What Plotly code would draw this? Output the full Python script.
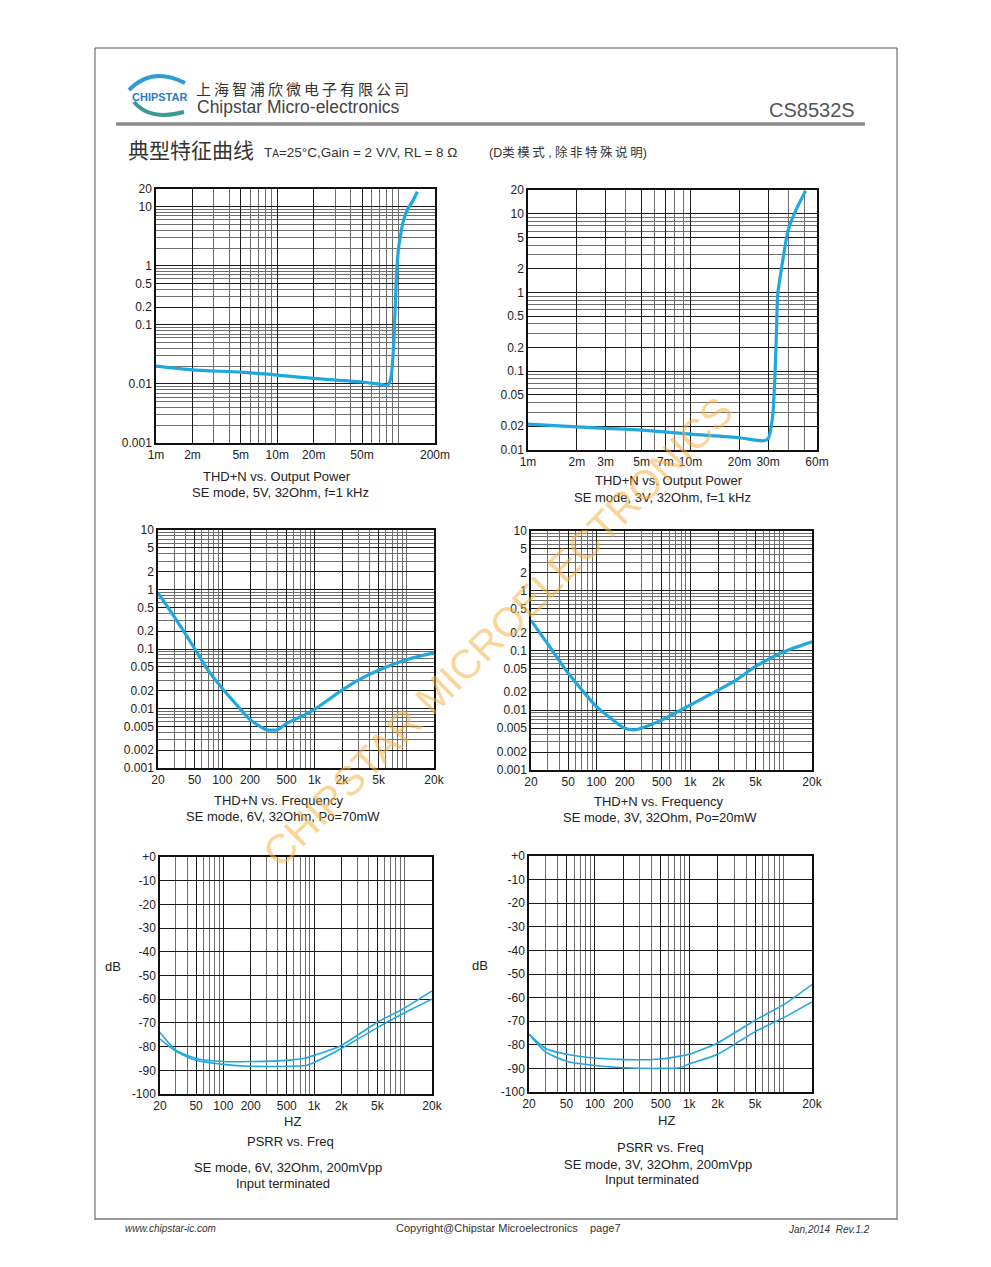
import math
import plotly.graph_objects as go

W, H = 991, 1267

# ---------------- data ----------------
# Chart 1: THD+N vs Output Power, SE mode 5V 32Ohm (P in W, THD+N in %)
p1_power = [0.001, 0.002, 0.005, 0.01, 0.02, 0.05, 0.07, 0.082, 0.087, 0.091,
            0.094, 0.096, 0.1, 0.104, 0.109, 0.119, 0.131, 0.143]
p1_thd = [0.020, 0.0173, 0.0158, 0.0141, 0.0124, 0.0108, 0.0099, 0.0096, 0.0134, 0.042,
          0.2, 0.62, 1.97, 3.3, 5.5, 9.1, 12.5, 18.0]

# Chart 2: THD+N vs Output Power, SE mode 3V 32Ohm
p2_power = [0.001, 0.002, 0.003, 0.005, 0.01, 0.02, 0.028, 0.030, 0.0319, 0.033,
            0.0338, 0.0344, 0.0364, 0.0398, 0.0444, 0.051]
p2_thd = [0.0213, 0.0197, 0.0188, 0.0179, 0.0159, 0.0143, 0.0131, 0.0139, 0.0252, 0.077,
          0.33, 0.96, 2.1, 6.1, 11.0, 19.5]

# Chart 3: THD+N vs Frequency, SE mode 6V 32Ohm Po=70mW
f3_freq = [20, 30, 50, 70, 100, 150, 200, 300, 400, 500, 700, 1000, 2000, 3000, 5000, 10000, 20000]
f3_thd = [0.88, 0.35, 0.102, 0.044, 0.0216, 0.0106, 0.0065, 0.0044, 0.0044, 0.0056, 0.0072,
          0.0096, 0.0203, 0.030, 0.044, 0.066, 0.086]

# Chart 4: THD+N vs Frequency, SE mode 3V 32Ohm Po=20mW
f4_freq = [20, 30, 50, 70, 100, 150, 200, 250, 300, 500, 1000, 2000, 3000, 5000, 10000, 20000]
f4_thd = [0.32, 0.13, 0.0415, 0.0218, 0.0115, 0.0069, 0.0050, 0.0047, 0.0050, 0.0069,
          0.0122, 0.0218, 0.031, 0.054, 0.095, 0.14]

# Chart 5: PSRR vs Freq, SE mode 6V
psrr5_freq = [20, 30, 50, 100, 200, 500, 800, 1000, 2000, 5000, 10000, 20000]
psrr5_a = [-74.0, -81.5, -85.0, -86.3, -86.3, -85.8, -84.8, -83.7, -79.5, -69.7, -63.7, -56.5]
psrr5_b = [-76.8, -82.0, -85.8, -87.5, -88.3, -88.3, -88.0, -86.7, -80.8, -72.0, -65.7, -60.0]

# Chart 6: PSRR vs Freq, SE mode 3V
psrr6_freq = [20, 30, 50, 100, 200, 500, 800, 1000, 2000, 5000, 10000, 20000]
psrr6_a = [-75.5, -81.6, -84.0, -85.6, -86.3, -86.0, -84.8, -84.0, -79.2, -69.6, -63.0, -54.5]
psrr6_b = [-75.5, -83.0, -87.0, -88.8, -89.7, -90.0, -89.7, -88.1, -84.0, -74.4, -68.5, -61.8]

# tick labels
pow1_ticks = [0.001, 0.002, 0.005, 0.01, 0.02, 0.05, 0.2]
pow1_text = ["1m", "2m", "5m", "10m", "20m", "50m", "200m"]
thd1_ticks = [20, 10, 1, 0.5, 0.2, 0.1, 0.01, 0.001]
thd1_text = ["20", "10", "1", "0.5", "0.2", "0.1", "0.01", "0.001"]

pow2_ticks = [0.001, 0.002, 0.003, 0.005, 0.007, 0.01, 0.02, 0.03, 0.06]
pow2_text = ["1m", "2m", "3m", "5m", "7m", "10m", "20m", "30m", "60m"]
thd2_ticks = [20, 10, 5, 2, 1, 0.5, 0.2, 0.1, 0.05, 0.02, 0.01]
thd2_text = ["20", "10", "5", "2", "1", "0.5", "0.2", "0.1", "0.05", "0.02", "0.01"]

freq_ticks = [20, 50, 100, 200, 500, 1000, 2000, 5000, 20000]
freq_text = ["20", "50", "100", "200", "500", "1k", "2k", "5k", "20k"]
thdf_ticks = [10, 5, 2, 1, 0.5, 0.2, 0.1, 0.05, 0.02, 0.01, 0.005, 0.002, 0.001]
thdf_text = ["10", "5", "2", "1", "0.5", "0.2", "0.1", "0.05", "0.02", "0.01", "0.005", "0.002", "0.001"]

db_ticks = [0, -10, -20, -30, -40, -50, -60, -70, -80, -90, -100]
db_text = ["+0", "-10", "-20", "-30", "-40", "-50", "-60", "-70", "-80", "-90", "-100"]

# ---------------- helpers ----------------
OFF = 8  # the page body has an 8px default margin: compensate so page pixels match


def X(p):
    return (p - OFF) / W


def Y(p):
    return 1 - (p - OFF) / H


def log_grid(lo, hi, exclude):
    vals = []
    e0 = int(math.floor(math.log10(lo))) - 1
    e1 = int(math.ceil(math.log10(hi))) + 1
    for e in range(e0, e1 + 1):
        for m in range(1, 10):
            v = float(f"{m * 10 ** e:.10g}")
            if lo * 0.999 <= v <= hi * 1.001 and all(abs(v - x) > 1e-12 * max(1, v) for x in exclude):
                vals.append(v)
    return vals


FONT = "Liberation Sans, Arial, Noto Sans CJK SC, sans-serif"
CJK = "Noto Sans CJK SC, sans-serif"
BLUE = "#1fa8e0"
TS = "\u2009"  # thin space used for the letter-spaced Chinese header text

fig = go.Figure()
layout = dict(
    width=W, height=H, margin=dict(l=0, r=0, t=0, b=0, autoexpand=False),
    paper_bgcolor="white", plot_bgcolor="white", showlegend=False,
    font=dict(family=FONT, color="#222"),
)


def axis_common():
    return dict(showline=True, linecolor="#111", linewidth=1.5, mirror=True,
                ticks="", showgrid=True, gridcolor="#1a1a1a", gridwidth=1.1,
                zeroline=False, fixedrange=True, automargin=False,
                tickfont=dict(size=12, color="#222", family=FONT))


charts = [
    dict(dom=(156, 435, 189, 443), xr=(0.001, 0.2), xt=pow1_ticks, xs=pow1_text,
         ylog=True, yr=(0.001, 20), yt=thd1_ticks, ys=thd1_text),
    dict(dom=(528, 817, 190, 450), xr=(0.001, 0.06), xt=pow2_ticks, xs=pow2_text,
         ylog=True, yr=(0.01, 20), yt=thd2_ticks, ys=thd2_text),
    dict(dom=(158, 434, 530, 768), xr=(20, 20000), xt=freq_ticks, xs=freq_text,
         ylog=True, yr=(0.001, 10), yt=thdf_ticks, ys=thdf_text),
    dict(dom=(531, 812, 531, 770), xr=(20, 20000), xt=freq_ticks, xs=freq_text,
         ylog=True, yr=(0.001, 10), yt=thdf_ticks, ys=thdf_text),
    dict(dom=(160, 432, 857, 1094), xr=(20, 20000), xt=freq_ticks, xs=freq_text,
         ylog=False, yr=(-100, 0), yt=db_ticks, ys=db_text),
    dict(dom=(529, 812, 856, 1092), xr=(20, 20000), xt=freq_ticks, xs=freq_text,
         ylog=False, yr=(-100, 0), yt=db_ticks, ys=db_text),
]

for i, c in enumerate(charts, start=1):
    x0, x1, y0, y1 = c["dom"]
    xa = axis_common()
    xa.update(type="log", range=[math.log10(c["xr"][0]), math.log10(c["xr"][1])],
              domain=[X(x0), X(x1)], anchor=f"y{i}", tickmode="array",
              tickvals=c["xt"], ticktext=c["xs"],
              minor=dict(tickmode="array", tickvals=log_grid(c["xr"][0], c["xr"][1], c["xt"]),
                         showgrid=True, gridcolor="#6e6e6e", gridwidth=1, ticks=""))
    ya = axis_common()
    if c["ylog"]:
        ya.update(type="log", range=[math.log10(c["yr"][0]), math.log10(c["yr"][1])],
                  minor=dict(tickmode="array", tickvals=log_grid(c["yr"][0], c["yr"][1], c["yt"]),
                             showgrid=True, gridcolor="#6e6e6e", gridwidth=1, ticks=""))
    else:
        ya.update(type="linear", range=list(c["yr"]))
    ya.update(domain=[Y(y1), Y(y0)], anchor=f"x{i}", tickmode="array",
              tickvals=c["yt"], ticktext=c["ys"])
    layout[f"xaxis{i}"] = xa
    layout[f"yaxis{i}"] = ya

series = [
    (1, p1_power, p1_thd, 3.2),
    (2, p2_power, p2_thd, 3.2),
    (3, f3_freq, f3_thd, 3.2),
    (4, f4_freq, f4_thd, 3.2),
    (5, psrr5_freq, psrr5_a, 1.6),
    (5, psrr5_freq, psrr5_b, 1.6),
    (6, psrr6_freq, psrr6_a, 1.6),
    (6, psrr6_freq, psrr6_b, 1.6),
]
for ax, xs, ys, w in series:
    fig.add_trace(go.Scatter(x=xs, y=ys, mode="lines", xaxis=f"x{ax}", yaxis=f"y{ax}",
                             line=dict(color=BLUE, width=w, shape="spline", smoothing=0.6),
                             hoverinfo="skip"))

# ---------------- annotations ----------------
ann = []


def txt(x, y, s, size=13, color="#222", xa="center", ya="middle", family=FONT, angle=0, **kw):
    ann.append(dict(x=X(x), y=Y(y), xref="paper", yref="paper", text=s, showarrow=False,
                    xanchor=xa, yanchor=ya, textangle=angle,
                    font=dict(size=size, color=color, family=family), **kw))


# header
txt(130, 97, "<b>CHIPSTAR</b>", size=11, color="#2a7cc4", xa="left",
    family="Liberation Sans Narrow, Liberation Sans, sans-serif")
txt(194, 88, TS.join("上海智浦欣微电子有限公司"), size=15, color="#333", xa="left", family=CJK)
txt(195, 107, "Chipstar Micro-electronics", size=17.5, color="#444", xa="left")
txt(857, 110, "CS8532S", size=20, color="#555", xa="right")
txt(126, 149, "典型特征曲线", size=21, color="#333", xa="left", family=CJK)
txt(262, 152, "T<span style='font-size:10px'>A</span>=25°C,Gain = 2 V/V, RL = 8 Ω",
    size=13.5, color="#333", xa="left")
txt(487, 152, "(D" + TS.join("类模式") + " , " + TS.join("除非特殊说明") + ")", size=12.5,
    color="#333", xa="left", family="Liberation Sans, Noto Sans CJK SC, sans-serif")

# chart captions
txt(277, 476, "THD+N vs. Output Power")
txt(280, 493, "SE mode, 5V, 32Ohm, f=1 kHz")
txt(669, 481, "THD+N vs. Output Power")
txt(662, 497, "SE mode, 3V, 32Ohm, f=1 kHz")
txt(278, 800, "THD+N vs. Frequency")
txt(283, 816, "SE mode, 6V, 32Ohm, Po=70mW")
txt(658, 801, "THD+N vs. Frequency")
txt(660, 817, "SE mode, 3V, 32Ohm, Po=20mW")
txt(292, 1121, "HZ")
txt(113, 967, "dB")
txt(290, 1141, "PSRR vs. Freq")
txt(288, 1167, "SE mode, 6V, 32Ohm, 200mVpp")
txt(283, 1183, "Input terminated")
txt(666, 1120, "HZ")
txt(480, 965, "dB")
txt(660, 1147, "PSRR vs. Freq")
txt(658, 1164, "SE mode, 3V, 32Ohm, 200mVpp")
txt(652, 1179, "Input terminated")

# footer
txt(123, 1228, "<i>www.chipstar-ic.com</i>", size=10, color="#333", xa="left")
txt(508, 1228, "Copyright@Chipstar Microelectronics &nbsp;&nbsp; page7", size=11, color="#333")
txt(872, 1229, "<i>Jan,2014 &nbsp;Rev.1.2</i>", size=10, color="#333", xa="right")

# watermark
txt(498, 632, "CHIPSTAR MICROELECTRONICS", size=41, color="rgba(246,176,60,0.55)", angle=-45)

layout["annotations"] = ann

# ---------------- shapes ----------------
def line(xa_, ya_, xb, yb, color, width):
    return dict(type="line", xref="paper", yref="paper", x0=X(xa_), y0=Y(ya_), x1=X(xb), y1=Y(yb),
                line=dict(color=color, width=width), layer="below")


def qpath(p0, c, p1):
    return f"M {X(p0[0])} {Y(p0[1])} Q {X(c[0])} {Y(c[1])} {X(p1[0])} {Y(p1[1])}"


shapes = [
    line(95, 48, 897, 48, "#555", 1),
    line(95, 48, 95, 1220, "#555", 1),
    line(897, 48, 897, 1220, "#555", 1),
    line(95, 1219, 897, 1219, "#777", 1.5),
    line(116, 124, 865, 124, "#8a8a8a", 3.5),
    dict(type="path", xref="paper", yref="paper", path=qpath((129, 90), (152, 66), (185, 83)),
         line=dict(color="#2e9ad8", width=4)),
    dict(type="path", xref="paper", yref="paper", path=qpath((134, 102), (150, 121), (184, 112)),
         line=dict(color="#3a9a96", width=4)),
]
layout["shapes"] = shapes

fig.update_layout(**layout)
fig.write_html("out.html")
